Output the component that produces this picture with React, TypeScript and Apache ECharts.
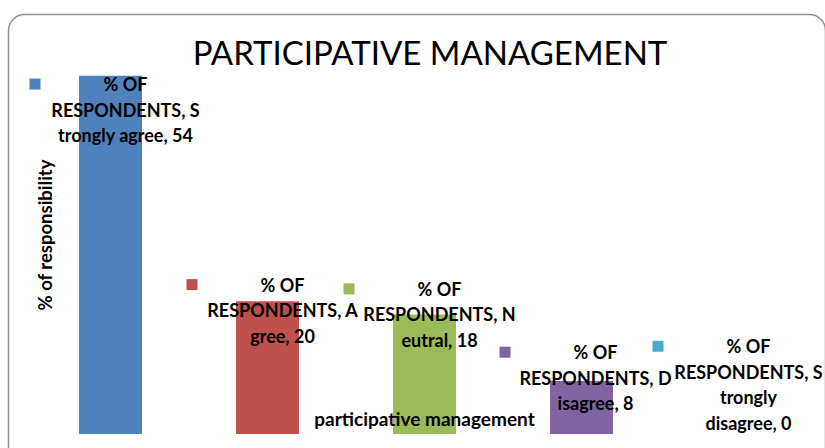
import React, { useEffect, useRef } from "react";
import * as echarts from "echarts";

const title = "PARTICIPATIVE MANAGEMENT";
const seriesName = "% OF RESPONDENTS";
const categories = ["Strongly agree", "Agree", "Neutral", "Disagree", "Strongly disagree"];
const values = [54, 20, 18, 8, 0];
const xAxisName = "participative management";
const yAxisName = "% of responsibility";

const colors = ["#4F81BD", "#C0504D", "#9BBB59", "#8064A2", "#4BACC6"];
const FONT = 'Lato, "Open Sans", sans-serif';

// Excel-like wrapping of "series, category, value"
function labelLines(cat: string, val: number): string[] {
  const sp = seriesName.lastIndexOf(" ");
  const head = seriesName.slice(0, sp);
  const tail = seriesName.slice(sp + 1);
  const rest = cat.slice(1);
  const words = rest.split(" ");
  words[words.length - 1] = words[words.length - 1] + ", " + val;
  const out: string[] = [];
  let cur = "";
  for (const w of words) {
    const t = cur ? cur + " " + w : w;
    if (t.length > 17 && cur) {
      out.push(cur);
      cur = w;
    } else cur = t;
  }
  if (cur) out.push(cur);
  return [head, tail + ", " + cat.charAt(0), ...out];
}

// label placement relative to bar top (layout only)
const labelNudgeY = [72, 47, 38, 35, 1.5];
const labelNudgeX = [5, 5, 5, 4, 0];

export default function App() {
  const ref = useRef<HTMLDivElement>(null);
  useEffect(() => {
    if (!ref.current) return;
    const chart = echarts.init(ref.current, null, { renderer: "svg" });
    const data = values.map((v, i) => {
      const lines = labelLines(categories[i], v);
      const text = lines
        .map((l, j) => (j === 0 ? `{k|}{g|}{t|${l}}` : `{s|}{t|${l}}`))
        .join("\n");
      return {
        value: v,
        itemStyle: { color: colors[i] },
        label: {
          show: true,
          position: "top",
          distance: -labelNudgeY[i],
          offset: [labelNudgeX[i], 0],
          formatter: text,
          rich: {
            k: { width: 11, height: 11, lineHeight: 25.5, backgroundColor: colors[i] },
            g: { width: 9, lineHeight: 25.5 },
            s: { width: 20, lineHeight: 25.5 },
            t: {
              width: 152,
              align: "center",
              fontSize: 18,
              fontWeight: "bold",
              fontFamily: FONT,
              color: "#000",
              lineHeight: 25.5,
            },
          },
        },
      };
    });
    chart.setOption({
      animation: false,
      backgroundColor: "#fff",
      title: {
        text: title,
        left: 425,
        top: 30,
        textAlign: "center",
        textStyle: { fontFamily: FONT, fontSize: 33, fontWeight: "normal", color: "#000" },
      },
      graphic: [
        {
          type: "rect",
          z: -1,
          shape: { x: 8.5, y: 14.5, width: 817, height: 480, r: 16 },
          style: { fill: "none", stroke: "#8f8f8f", lineWidth: 1.5 },
        },
      ],
      grid: { left: 32, right: 8, top: 36, bottom: 14 },
      xAxis: {
        type: "category",
        data: categories,
        z: 10,
        axisLine: { show: false },
        axisTick: { show: false },
        axisLabel: { show: false },
        name: xAxisName,
        nameLocation: "middle",
        nameGap: -25,
        nameTextStyle: { fontFamily: FONT, fontSize: 19, fontWeight: "bold", color: "#000" },
      },
      yAxis: {
        type: "value",
        min: 0,
        max: 60,
        axisLine: { show: false },
        axisTick: { show: false },
        axisLabel: { show: false },
        splitLine: { show: false },
        name: yAxisName,
        nameLocation: "middle",
        nameRotate: 90,
        nameGap: -22,
        nameTextStyle: { fontFamily: FONT, fontSize: 18.5, fontWeight: "bold", color: "#000" },
      },
      series: [
        {
          type: "bar",
          name: seriesName,
          barWidth: 63,
          data,
        },
      ],
    });
    return () => chart.dispose();
  }, []);
  return (
    <div
      ref={ref}
      style={{ position: "fixed", left: 0, top: 0, width: 825, height: 448 }}
    />
  );
}
